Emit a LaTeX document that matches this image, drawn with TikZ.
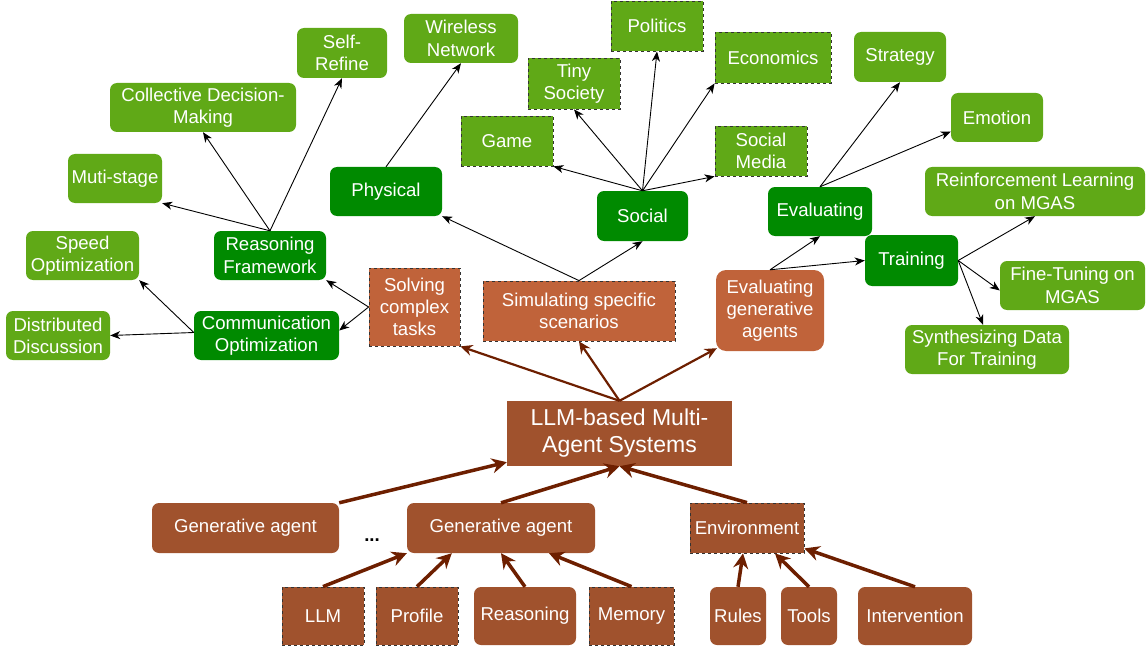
\documentclass[tikz,border=0pt]{standalone}
\usepackage{fontspec}
\setmainfont{Liberation Sans}
\usepackage{xcolor}
\usetikzlibrary{arrows.meta,calc,positioning}
\definecolor{leafgreen}{HTML}{60A917}
\definecolor{darkgreen}{HTML}{008A00}
\definecolor{taskorange}{HTML}{C0633A}
\definecolor{sienna}{HTML}{A0522D}
\definecolor{arrowbrown}{HTML}{6D1F00}
\definecolor{dashgray}{HTML}{333333}
\tikzset{%
	box/.style        = {rectangle, text=white, align=center, inner sep=2pt, minimum height=49pt, font=\fontsize{18.6}{22.3}\selectfont},
	leaf/.style       = {box, fill=leafgreen, rounded corners=7pt}, % topic
	leafdash/.style   = {box, fill=leafgreen, draw=dashgray, dashed, line width=0.8pt}, % dashed topic
	branch/.style     = {box, fill=darkgreen, rounded corners=7pt}, % area
	task/.style       = {box, fill=taskorange, draw=dashgray, dashed, line width=0.8pt}, % task
	taskround/.style  = {box, fill=taskorange, rounded corners=10pt}, % task
	part/.style       = {box, fill=sienna, rounded corners=7pt}, % component
	partdash/.style   = {box, fill=sienna, draw=dashgray, dashed, line width=0.8pt}, % component
	thinarrow/.style  = {-{Stealth[length=10pt,width=8pt,inset=3pt]}, line width=0.9pt},
	midarrow/.style   = {-{Stealth[length=12pt,width=11pt,inset=4pt]}, arrowbrown, line width=2.2pt},
	thickarrow/.style = {-{Stealth[length=15pt,width=15pt,inset=5pt]}, arrowbrown, line width=3.5pt},
}
\begin{document}
\begin{tikzpicture}[x=1pt,y=-1pt]
	\useasboundingbox (0,0) rectangle (1146,650);
	% core system
	\node [box, fill=sienna, minimum width=225pt, minimum height=65pt, font=\fontsize{23}{27}\selectfont] (mas) at (619.5,433.5) {LLM-based Multi-\\Agent Systems};
	\node [part, minimum width=187pt, minimum height=50pt] (ga1) at (245.5,528) {Generative agent};
	\node [part, minimum width=188pt, minimum height=50pt] (ga2) at (501,528) {Generative agent};
	\node [partdash, minimum width=114pt, minimum height=50pt] (env) at (747,528) {Environment};
	\node [font=\fontsize{18.6}{22.3}\selectfont\bfseries] (dots) at (372,540) {...};
	\node [partdash, minimum width=82pt, minimum height=58pt] (llm) at (323,616) {LLM};
	\node [partdash, minimum width=82pt, minimum height=58pt] (profile) at (417,616) {Profile};
	\node [part, minimum width=102pt, minimum height=58pt] (reason) at (525,616) {Reasoning};
	\node [partdash, minimum width=85pt, minimum height=58pt] (memory) at (631.5,616) {Memory};
	\node [part, minimum width=56pt, minimum height=58pt] (rules) at (738,616) {Rules};
	\node [part, minimum width=56pt, minimum height=58pt] (tools) at (809,616) {Tools};
	\node [part, minimum width=114pt, minimum height=58pt] (interv) at (915,616) {Intervention};
	% tasks
	\node [task, minimum width=91pt, minimum height=78pt] (solve) at (414.5,307) {Solving\\complex\\tasks};
	\node [task, minimum width=192pt, minimum height=60pt] (sim) at (579,311) {Simulating specific\\scenarios};
	\node [taskround, minimum width=108pt, minimum height=81pt] (evalg) at (770,310.5) {Evaluating\\generative\\agents};
	% solving complex tasks
	\node [branch, minimum width=112pt] (rf) at (270,255.5) {Reasoning\\Framework};
	\node [branch, minimum width=145pt] (comm) at (266.5,335.5) {Communication\\Optimization};
	\node [leaf, minimum width=90pt, minimum height=50pt] (self) at (342,53) {Self-\\Refine};
	\node [leaf, minimum width=186pt] (coll) at (203,107.5) {Collective Decision-\\Making};
	\node [leaf, minimum width=94pt] (muti) at (115,178.5) {Muti-stage};
	\node [leaf, minimum width=113pt] (speed) at (82.5,255.5) {Speed\\Optimization};
	\node [leaf, minimum width=104pt] (dist) at (58,335.5) {Distributed\\Discussion};
	% simulating scenarios
	\node [branch, minimum width=112pt] (phys) at (386,191.5) {Physical};
	\node [branch, minimum width=91pt, minimum height=50pt] (social) at (642.5,216) {Social};
	\node [leaf, minimum width=114pt] (wire) at (461,38.5) {Wireless\\Network};
	\node [leafdash, minimum width=92pt, minimum height=50pt] (pol) at (657,26) {Politics};
	\node [leafdash, minimum width=116pt, minimum height=51pt] (eco) at (773,57.5) {Economics};
	\node [leafdash, minimum width=92pt, minimum height=51pt] (tiny) at (574,83.5) {Tiny\\Society};
	\node [leafdash, minimum width=92pt, minimum height=50pt] (game) at (507,141) {Game};
	\node [leafdash, minimum width=92pt, minimum height=50pt] (socmed) at (761,151) {Social\\Media};
	% evaluating agents
	\node [branch, minimum width=104pt] (eval) at (820,211.5) {Evaluating};
	\node [branch, minimum width=93pt, minimum height=51pt] (train) at (911.5,260.5) {Training};
	\node [leaf, minimum width=92pt, minimum height=50pt] (strat) at (900,57) {Strategy};
	\node [leaf, minimum width=92pt] (emo) at (997,117.5) {Emotion};
	\node [leaf, minimum width=220pt] (rl) at (1035,191.5) {Reinforcement Learning\\on MGAS};
	\node [leaf, minimum width=145pt] (ft) at (1072.5,285.5) {Fine-Tuning on\\MGAS};
	\node [leaf, minimum width=164pt] (synth) at (987,349.5) {Synthesizing Data\\For Training};

	% components
	\draw [thickarrow] (llm.north) -- (ga2.south west);
	\draw [thickarrow] (profile.north) -- ($(ga2.south west)+(45,0)$);
	\draw [thickarrow] (reason.north) -- (ga2.south);
	\draw [thickarrow] (memory.north) -- ($(ga2.south)+(48,0)$);
	\draw [thickarrow] (rules.north) -- ($(env.south)+(-4,0)$);
	\draw [thickarrow] (tools.north) -- ($(env.south)+(28,0)$);
	\draw [thickarrow] (interv.north) -- ($(env.south east)+(0,-5)$);
	\draw [thickarrow] (ga1.north east) -- ($(mas.south west)+(0,-4)$);
	\draw [thickarrow] (ga2.north) -- (mas.south);
	\draw [thickarrow] (env.north) -- (mas.south);
	% tasks
	\draw [midarrow] (mas.north) -- (solve.south east);
	\draw [midarrow] (mas.north) -- (sim.south);
	\draw [midarrow] (mas.north) -- ($(evalg.south west)+(1,-3)$);
	% topics
	\draw [thinarrow] (solve.west) -- (rf.south east);
	\draw [thinarrow] (solve.west) -- ($(comm.east)+(0,-5)$);
	\draw [thinarrow] ($(comm.west)+(0,-3)$) -- (dist.east);
	\draw [thinarrow] ($(comm.west)+(0,-3)$) -- (speed.south east);
	\draw [thinarrow] (rf.north) -- (muti.south east);
	\draw [thinarrow] (rf.north) -- (coll.south);
	\draw [thinarrow] (rf.north) -- (self.south);
	\draw [thinarrow] (phys.north) -- (wire.south);
	\draw [thinarrow] (sim.north) -- (phys.south east);
	\draw [thinarrow] (sim.north) -- (social.south);
	\draw [thinarrow] (social.north) -- (game.south east);
	\draw [thinarrow] (social.north) -- (tiny.south);
	\draw [thinarrow] (social.north) -- (pol.south);
	\draw [thinarrow] (social.north) -- (eco.south west);
	\draw [thinarrow] (social.north) -- (socmed.south west);
	\draw [thinarrow] (evalg.north) -- (eval.south);
	\draw [thinarrow] (evalg.north) -- (train.west);
	\draw [thinarrow] (eval.north) -- (strat.south);
	\draw [thinarrow] (eval.north) -- ($(emo.west)+(0,14)$);
	\draw [thinarrow] (train.east) -- (rl.south);
	\draw [thinarrow] (train.east) -- ($(ft.west)+(0,5)$);
	\draw [thinarrow] (train.east) -- ($(synth.north)+(-4,0)$);
\end{tikzpicture}
\end{document}
